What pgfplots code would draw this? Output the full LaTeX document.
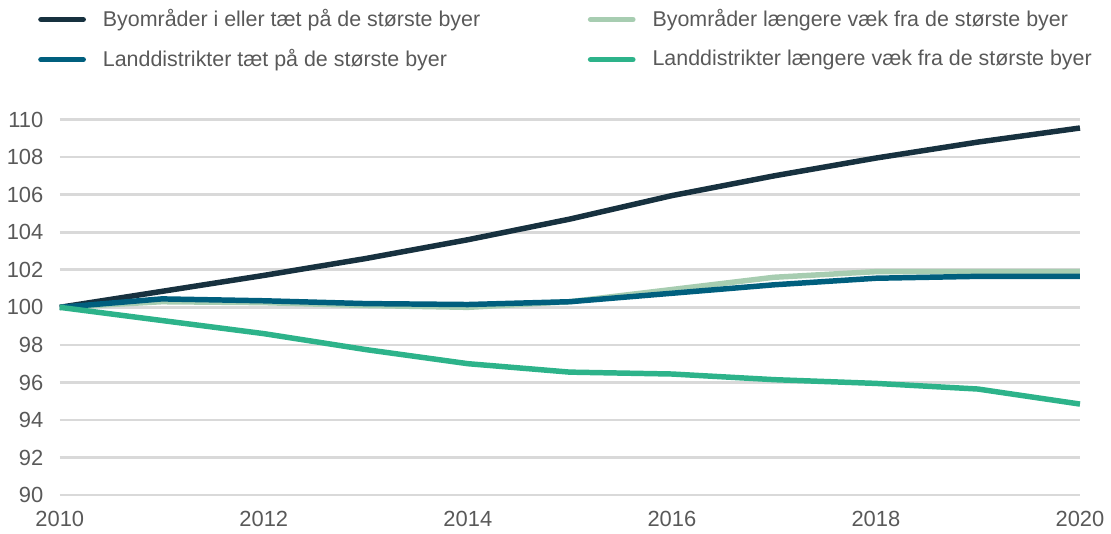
\documentclass[border=0pt]{standalone}
\usepackage{fontspec}
\setmainfont{Liberation Sans}
\usepackage{pgfplots}
\pgfplotsset{compat=1.18}
\definecolor{c1}{HTML}{17313F}
\definecolor{c2}{HTML}{A7CDB1}
\definecolor{c3}{HTML}{005F7E}
\definecolor{c4}{HTML}{2DB38A}
\definecolor{txt}{HTML}{595959}
\definecolor{gridc}{HTML}{D9D9D9}
\begin{document}
\begin{tikzpicture}
\begin{axis}[
  scale only axis, width=512pt, height=188.5pt,
  xmin=2010, xmax=2020, ymin=90, ymax=110,
  xtick={2010,2012,...,2020}, ytick={90,92,...,110},
  /pgf/number format/1000 sep=,
  /pgf/number format/assume math mode=true,
  axis line style={draw=none}, major tick length=0pt,
  ymajorgrids, grid style={gridc, line width=1.3pt},
  tick label style={font=\fontsize{11}{13}\selectfont, text=txt},
  xticklabel style={yshift=-4.5pt},
  yticklabel style={xshift=-4.7pt},
  clip=false,
  legend columns=2,
  legend cell align=left,
  legend style={draw=none, fill=none, inner sep=0pt, at={(-0.0215,1.305)}, anchor=north west,
    font=\fontsize{10.75}{12}\selectfont, text=txt, row sep=6pt,
    /tikz/every odd column/.append style={column sep=6.5pt},
    /tikz/every even column/.append style={column sep=52pt}},
  legend image code/.code={\draw[#1, line cap=round] (1.4pt,0pt) -- (22.6pt,0pt);},
  every axis plot/.append style={line width=2.75pt, line join=round},
]
\addplot[c1] coordinates {(2010,100) (2011,100.85) (2012,101.7) (2013,102.6) (2014,103.6) (2015,104.7) (2016,105.95) (2017,107.0) (2018,107.95) (2019,108.8) (2020,109.55)};
\addlegendentry{Byområder i eller tæt på de største byer}
\addplot[c2] coordinates {(2010,100) (2011,100.3) (2012,100.25) (2013,100.1) (2014,100.0) (2015,100.3) (2016,100.95) (2017,101.6) (2018,101.9) (2019,101.9) (2020,101.9)};
\addlegendentry{Byområder længere væk fra de største byer}
\addplot[c3] coordinates {(2010,100) (2011,100.45) (2012,100.35) (2013,100.2) (2014,100.15) (2015,100.3) (2016,100.75) (2017,101.2) (2018,101.55) (2019,101.65) (2020,101.65)};
\addlegendentry{Landdistrikter tæt på de største byer}
\addplot[c4] coordinates {(2010,100) (2011,99.3) (2012,98.6) (2013,97.75) (2014,97.0) (2015,96.55) (2016,96.45) (2017,96.15) (2018,95.95) (2019,95.65) (2020,94.85)};
\addlegendentry{Landdistrikter længere væk fra de største byer}
\end{axis}
\path (-30pt,-18pt) rectangle (525.5pt,248.5pt);
\end{tikzpicture}
\end{document}
